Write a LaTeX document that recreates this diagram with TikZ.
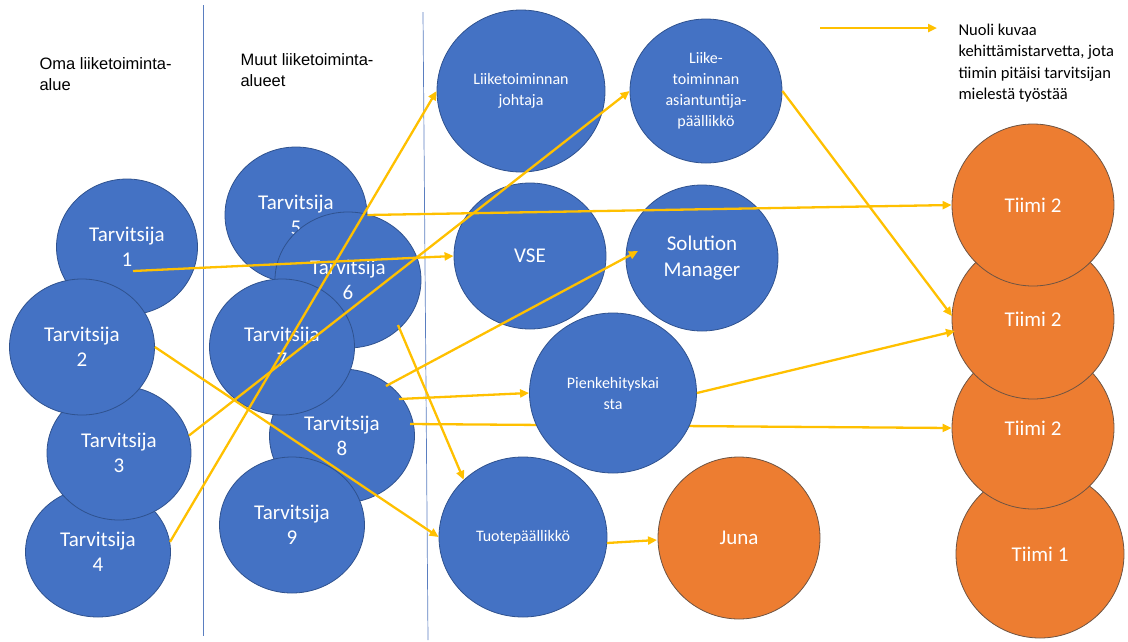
\documentclass[tikz,border=0pt]{standalone}
\usepackage{fontspec}
\setmainfont{Carlito}
\newfontfamily\labelfont{Liberation Sans}
\usetikzlibrary{shapes.geometric,arrows.meta}
\definecolor{nodeblue}{HTML}{4472C4}
\definecolor{nodeblueline}{HTML}{2F528F}
\definecolor{teamorange}{HTML}{ED7D31}
\definecolor{teamline}{HTML}{6E5443}
\definecolor{needarrow}{HTML}{FFC000}
\definecolor{divider}{HTML}{5A7EC0}

\begin{document}
\begin{tikzpicture}[x=1pt,y=-1pt,
  bubble/.style={ellipse, inner sep=0pt, align=center, text=white,
    draw=nodeblueline, line width=0.8pt, fill=nodeblue},
  team/.style={bubble, fill=teamorange, draw=teamline},
  bigtext/.style={font=\fontsize{21}{25}\selectfont},
  smalltext/.style={font=\fontsize{16}{21}\selectfont},
  need/.style={draw=needarrow, line width=2.3pt, -{Triangle[length=9pt,width=8pt]}},
  rulerline/.style={draw=divider, line width=0.7pt},
  heading/.style={align=left, anchor=west, font=\labelfont\fontsize{16.5}{21}\selectfont}
]
\useasboundingbox (0,0) rectangle (1128,641);

% column dividers
\draw[rulerline] (203,5) -- (203,636);
\draw[rulerline] (423,12) -- (428,640);

% column headings
\node[heading] (hown) at (36,74) {Oma liiketoiminta-\\alue};
\node[heading] (hother) at (237,70) {Muut liiketoiminta-\\alueet};

% own business area
\node[bubble, bigtext, minimum width=141pt, minimum height=136pt] (t1) at (127,247) {Tarvitsija\\1};
\node[bubble, bigtext, minimum width=145pt, minimum height=130pt] (t4) at (98,552) {Tarvitsija\\4};
\node[bubble, bigtext, minimum width=144pt, minimum height=134pt] (t3) at (119,453) {Tarvitsija\\3};
\node[bubble, bigtext, minimum width=145pt, minimum height=136pt] (t2) at (82,347) {Tarvitsija\\2};

% other business areas
\node[bubble, bigtext, minimum width=142pt, minimum height=136pt] (t5) at (296,215) {Tarvitsija\\5};
\node[bubble, bigtext, minimum width=146pt, minimum height=136pt] (t6) at (348,280) {Tarvitsija\\6};
\node[bubble, bigtext, minimum width=145pt, minimum height=134pt] (t8) at (342,436) {Tarvitsija\\8};
\node[bubble, bigtext, minimum width=145pt, minimum height=136pt] (t7) at (282,347) {Tarvitsija\\7};
\node[bubble, bigtext, minimum width=145pt, minimum height=136pt] (t9) at (292,525) {Tarvitsija\\9};

% roles
\node[bubble, smalltext, minimum width=168pt, minimum height=162pt] (jo) at (521,91) {Liiketoiminnan\\johtaja};
\node[bubble, smalltext, minimum width=152pt, minimum height=144pt] (as) at (706,91) {Liike-\\toiminnan\\asiantuntija-\\päällikkö};
\node[bubble, bigtext, minimum width=152pt, minimum height=146pt] (vse) at (530,256) {VSE};
\node[bubble, bigtext, minimum width=152pt, minimum height=146pt, font=\fontsize{21}{26}\selectfont] (sm) at (702,258) {Solution\\Manager};
\node[bubble, smalltext, minimum width=168pt, minimum height=160pt] (tu) at (523,537) {Tuotepäällikkö};
\node[team, bigtext, minimum width=162pt, minimum height=162pt] (juna) at (739,538) {Juna};

% teams
\node[team, bigtext, minimum width=168pt, minimum height=168pt] (tD) at (1040,554) {Tiimi 1};
\node[team, bigtext, minimum width=162pt, minimum height=162pt] (tC) at (1033,428) {Tiimi 2};
\node[team, bigtext, minimum width=162pt, minimum height=160pt] (tB) at (1033,319) {Tiimi 2};
\node[team, bigtext, minimum width=162pt, minimum height=162pt] (tA) at (1033,205) {Tiimi 2};

% this need runs behind the small development circle
\draw[need] ([shift={(68,-12)}]t8.center) -- (tC.west);
\node[bubble, smalltext, minimum width=167pt, minimum height=160pt] (pi) at (613,393) {Pienkehityskai\\sta};

% development needs
\draw[need] ([shift={(6,24)}]t1.center) -- (vse.west);
\draw[need] (t5.east) -- (tA.west);
\draw[need] (t4.8) -- (jo.west);
\draw[need] (t3.14) -- (as.west);
\draw[need] (t2.east) -- (tu.west);
\draw[need] ([shift={(50,45)}]t6.center) -- (tu.136);
\draw[need] ([shift={(44,-50)}]t8.center) -- ([shift={(-64,-7)}]sm.center);
\draw[need] ([shift={(57,-37)}]t8.center) -- (pi.west);
\draw[need] (as.east) -- ([shift={(-81,-3)}]tB.center);
\draw[need] (pi.east) -- ([shift={(-78,12)}]tB.center);
\draw[need] ([shift={(84,6)}]tu.center) -- ([shift={(-82,2)}]juna.center);

% legend
\coordinate (lg1) at (820,28);
\coordinate (lg2) at (937,28);
\draw[need] (lg1) -- (lg2);
\node[align=left, anchor=west, font=\fontsize{16.5}{21.3}\selectfont] (legend) at (955,63)
  {Nuoli kuvaa\\kehittämistarvetta, jota\\tiimin pitäisi tarvitsijan\\mielestä työstää};
\end{tikzpicture}
\end{document}
